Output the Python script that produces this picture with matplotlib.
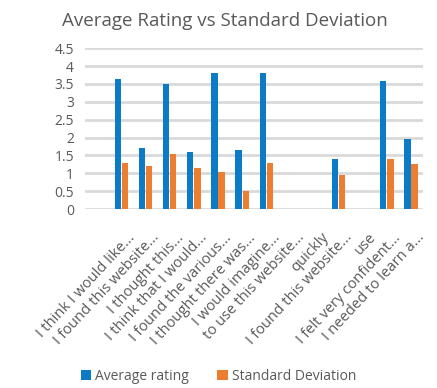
import numpy as np
import matplotlib.pyplot as plt
import matplotlib.transforms as mtransforms

plt.rcParams['font.family'] = ['Open Sans', 'DejaVu Sans']

# Kategorije (prva je prazna, kao u originalu)
categories = ['', 'I think I would like...', 'I found this website...', 'I thought this...',
              'I think that I would...', 'I found the various...', 'I thought there was...',
              'I would imagine...', 'to use this website...', 'quickly',
              'I found this website...', 'use', 'I felt very confident...',
              'I needed to learn a...']
avg_rating = [np.nan, 3.64, 1.71, 3.51, 1.60, 3.81, 1.65, 3.81, np.nan, np.nan,
              1.40, np.nan, 3.59, 1.96]
std_dev = [np.nan, 1.29, 1.21, 1.54, 1.15, 1.04, 0.50, 1.29, np.nan, np.nan,
           0.95, np.nan, 1.40, 1.26]
yticks = [0, 0.5, 1, 1.5, 2, 2.5, 3, 3.5, 4, 4.5]

grey = '#595959'
x = np.arange(len(categories))
w = 0.26

fig = plt.figure(figsize=(4.37, 3.88), dpi=100)
ax = fig.add_axes([0.195, 0.461, 0.773, 0.415])

ax.bar(x - 0.145, avg_rating, width=w, color='#0A7BC4', label='Average rating', zorder=3)
ax.bar(x + 0.15, std_dev, width=w, color='#ED7D31', label='Standard Deviation', zorder=3)

ax.set_xlim(-0.5, len(categories) - 0.5)
ax.set_ylim(0, 4.5)
ax.set_yticks(yticks)
ax.set_yticklabels([f'{t:g}' for t in yticks], color=grey, fontsize=10)
ax.yaxis.grid(True, color='#D9D9D9', linewidth=2, zorder=0)
ax.tick_params(length=0, pad=8)
for s in ax.spines.values():
    s.set_visible(False)

ax.set_xticks(x)
ax.set_xticklabels(categories, rotation=47, ha='right', rotation_mode='anchor',
                   color=grey, fontsize=10.6)
offset = mtransforms.ScaledTranslation(0.06, -0.1, fig.dpi_scale_trans)
for lbl in ax.get_xticklabels():
    lbl.set_transform(lbl.get_transform() + offset)

fig.text(0.515, 0.947, 'Average Rating vs Standard Deviation', ha='center', va='center',
         fontsize=13.5, color=grey)

fig.legend(loc='center', bbox_to_anchor=(0.5, 1 - 376 / 388), ncol=2, frameon=False,
           handlelength=0.75, handleheight=0.75, handletextpad=0.3, columnspacing=2.0,
           fontsize=10, labelcolor=grey)

fig.savefig('out.png', dpi=100)
